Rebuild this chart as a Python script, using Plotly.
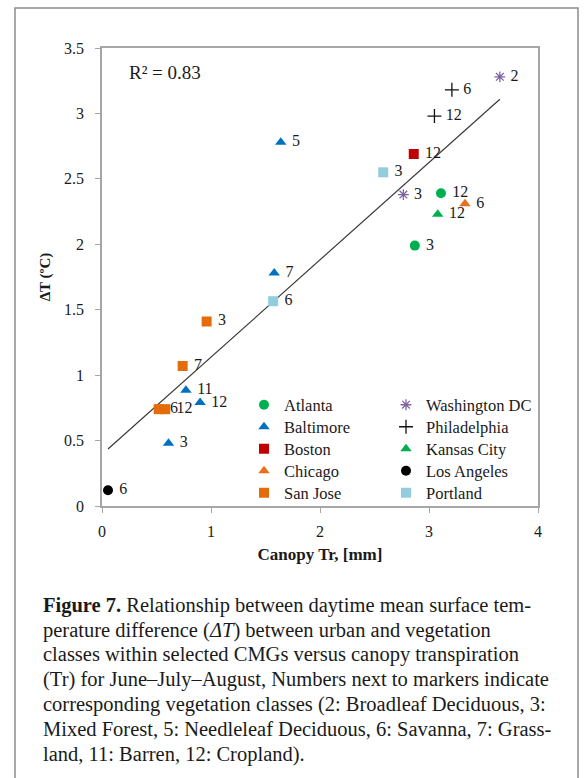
import numpy as np
import plotly.graph_objects as go

# ---- data: canopy transpiration Tr (mm) vs urban-vegetation ΔT (°C) ----
atlanta_tr = [3.11, 2.87]
atlanta_dt = [2.39, 1.99]
atlanta_cls = ["12", "3"]

baltimore_tr = [1.64, 1.58, 0.77, 0.90, 0.61]
baltimore_dt = [2.78, 1.78, 0.885, 0.79, 0.48]
baltimore_cls = ["5", "7", "11", "12", "3"]

boston_tr = [2.86]
boston_dt = [2.69]
boston_cls = ["12"]

chicago_tr = [3.33]
chicago_dt = [2.31]
chicago_cls = ["6"]

sanjose_tr = [0.96, 0.74, 0.52, 0.58]
sanjose_dt = [1.41, 1.07, 0.74, 0.74]
sanjose_cls = ["3", "7", "6", "12"]

washington_tr = [3.65, 2.765]
washington_dt = [3.28, 2.38]
washington_cls = ["2", "3"]

philadelphia_tr = [3.21, 3.05]
philadelphia_dt = [3.18, 2.98]
philadelphia_cls = ["6", "12"]

kansas_tr = [3.08]
kansas_dt = [2.23]
kansas_cls = ["12"]

losangeles_tr = [0.055]
losangeles_dt = [0.12]
losangeles_cls = ["6"]

portland_tr = [2.58, 1.57]
portland_dt = [2.55, 1.565]
portland_cls = ["3", "6"]

r2_label = "R² = 0.83"
x_ticks = [0, 1, 2, 3, 4]
y_ticks = [0, 0.5, 1, 1.5, 2, 2.5, 3, 3.5]

caption_lines = [
    "<b>Figure 7.</b> Relationship between daytime mean surface tem-",
    "perature difference (<i>ΔT</i>) between urban and vegetation",
    "classes within selected CMGs versus canopy transpiration",
    "(Tr) for June–July–August, Numbers next to markers indicate",
    "corresponding vegetation classes (2: Broadleaf Deciduous, 3:",
    "Mixed Forest, 5: Needleleaf Deciduous, 6: Savanna, 7: Grass-",
    "land, 11: Barren, 12: Cropland).",
]

# ---- styling ----
SERIF = "Liberation Serif, Times New Roman, serif"
INK = "#1a1a1a"
W, H = 584, 778
ML, MR, MT, MB = 102, 46, 48, 272
PW, PH = W - ML - MR, H - MT - MB


def px_x(px):
    return (px - ML) / PW


def px_y(py):
    return (H - MB - py) / PH


# (name, x, y, labels, symbol, color, size, legend column, legend row)
series = [
    ("Atlanta", atlanta_tr, atlanta_dt, atlanta_cls, "circle", "#00B050", 10, 0, 0),
    ("Baltimore", baltimore_tr, baltimore_dt, baltimore_cls, "triangle-up", "#0070C0", 10, 0, 1),
    ("Boston", boston_tr, boston_dt, boston_cls, "square", "#C00000", 10, 0, 2),
    ("Chicago", chicago_tr, chicago_dt, chicago_cls, "triangle-up", "#E8701A", 10, 0, 3),
    ("San Jose", sanjose_tr, sanjose_dt, sanjose_cls, "square", "#E46C0A", 10, 0, 4),
    ("Washington DC", washington_tr, washington_dt, washington_cls, "asterisk-open", "#8064A2", 9, 1, 0),
    ("Philadelphia", philadelphia_tr, philadelphia_dt, philadelphia_cls, "cross-thin-open", "#111111", 10, 1, 1),
    ("Kansas City", kansas_tr, kansas_dt, kansas_cls, "triangle-up", "#00B050", 10, 1, 2),
    ("Los Angeles", losangeles_tr, losangeles_dt, losangeles_cls, "circle", "#000000", 10, 1, 3),
    ("Portland", portland_tr, portland_dt, portland_cls, "square", "#93CDDD", 10, 1, 4),
]

# legend grid (two columns of five rows inside the plot)
legend_col_left = [244, 386]
legend_row_mid = [405, 427, 449, 471, 493]

fig = go.Figure()

# linear trend over all points
all_x = np.concatenate([np.asarray(s[1], float) for s in series])
all_y = np.concatenate([np.asarray(s[2], float) for s in series])
slope, intercept = np.polyfit(all_x, all_y, 1)
line_x = np.array([all_x.min(), all_x.max()])
fig.add_trace(go.Scatter(
    x=line_x, y=slope * line_x + intercept, mode="lines",
    line=dict(color="#3a3a3a", width=1.2), showlegend=False, hoverinfo="skip",
))

legend_layouts = {}
for i, (name, xs, ys, labels, sym, col, size, lcol, lrow) in enumerate(series):
    open_sym = sym.endswith("open")
    leg_id = "legend" if i == 0 else f"legend{i + 1}"
    fig.add_trace(go.Scatter(
        x=xs, y=ys, name=name, mode="markers+text",
        # a no-break space keeps each class number clear of its marker
        text=["\u00a0" + t for t in labels],
        textposition="middle right",
        textfont=dict(family=SERIF, size=16, color=INK),
        marker=dict(
            symbol=sym, size=size, color=col,
            line=dict(color=col, width=1.3 if open_sym else 0),
        ),
        legend=leg_id,
    ))
    legend_layouts[leg_id] = dict(
        x=px_x(legend_col_left[lcol]), y=px_y(legend_row_mid[lrow]),
        xanchor="left", yanchor="middle",
        bgcolor="rgba(0,0,0,0)", itemwidth=30, borderwidth=0,
        font=dict(family=SERIF, size=16.5, color=INK),
    )

fig.add_annotation(
    x=0.23, y=3.31, xref="x", yref="y", text=r2_label, showarrow=False,
    xanchor="left", yanchor="middle",
    font=dict(family=SERIF, size=19, color=INK),
)

# outer figure frame
fig.add_shape(
    type="rect", xref="paper", yref="paper",
    x0=px_x(15), x1=px_x(578), y0=px_y(800), y1=px_y(8),
    line=dict(color="#8c8c8c", width=1.5), fillcolor="rgba(0,0,0,0)", layer="below",
)

# caption
baselines = [611.7 + i * 24.8 for i in range(len(caption_lines))]
for line, base in zip(caption_lines, baselines):
    fig.add_annotation(
        x=px_x(41), y=px_y(base - 6.5), xref="paper", yref="paper",
        text=line, showarrow=False, xanchor="left", yanchor="middle",
        font=dict(family=SERIF, size=20.5, color=INK),
    )

axis_common = dict(
    showline=True, linecolor="#a6a6a6", linewidth=1.5, mirror=True,
    showgrid=False, zeroline=False, ticks="outside", ticklen=5,
    tickcolor="#a6a6a6", tickwidth=1.2,
    tickfont=dict(family=SERIF, size=16, color=INK),
)

fig.update_layout(
    width=W, height=H,
    margin=dict(l=ML, r=MR, t=MT, b=MB, autoexpand=False),
    paper_bgcolor="white", plot_bgcolor="white",
    xaxis=dict(
        range=[0, 4], tickvals=x_ticks, ticklabelstandoff=5,
        title=dict(text="<b>Canopy Tr, [mm]</b>", standoff=9,
                   font=dict(family=SERIF, size=17, color=INK)),
        **axis_common,
    ),
    yaxis=dict(
        range=[0, 3.5], tickvals=y_ticks, ticklabelstandoff=8,
        title=dict(text="<b>ΔT (ºC)</b>", standoff=10,
                   font=dict(family=SERIF, size=15, color=INK)),
        **axis_common,
    ),
    **legend_layouts,
)

fig.write_html("out.html")
